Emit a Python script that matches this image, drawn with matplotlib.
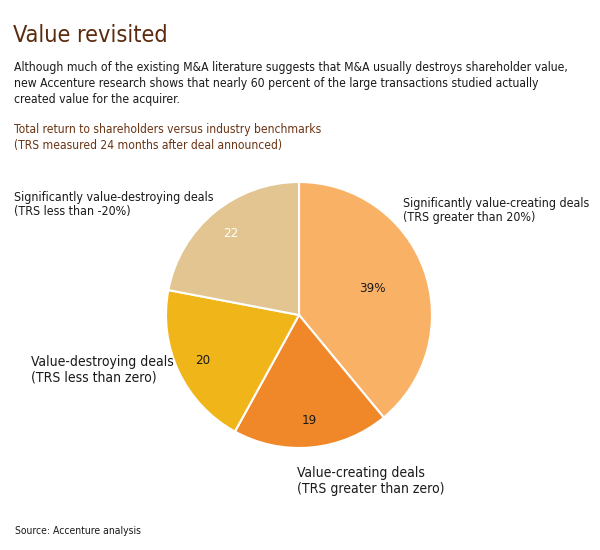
import numpy as np
import matplotlib.pyplot as plt

# Datos del gráfico (en sentido horario desde arriba)
valores = [39, 19, 20, 22]
etiquetas_num = ['39%', '19', '20', '22']
colores = ['#F9B166', '#F08829', '#F0B518', '#E2C590']
color_num = ['#1a1a1a', '#1a1a1a', '#1a1a1a', '#ffffff']
dist_num = [0.59, 0.8, 0.8, 0.8]
categorias = ['Significantly value-creating deals\n(TRS greater than 20%)',
              'Value-creating deals\n(TRS greater than zero)',
              'Value-destroying deals\n(TRS less than zero)',
              'Significantly value-destroying deals\n(TRS less than -20%)']

plt.rcParams['font.family'] = ['DejaVu Sans']
plt.rcParams['font.stretch'] = 'condensed'

W, H = 600, 550
fig = plt.figure(figsize=(6, 5.5), dpi=100)
fig.patch.set_facecolor('white')


def px(x, y):
    return x / W, 1 - y / H


marron = '#5B2B0F'

# Título y textos
fig.text(*px(13, 42), 'Value revisited', fontsize=16.8, color=marron, va='baseline')
fig.text(*px(14, 61), 'Although much of the existing M&A literature suggests that M&A usually destroys shareholder value,\n'
         'new Accenture research shows that nearly 60 percent of the large transactions studied actually\n'
         'created value for the acquirer.', fontsize=8.75, color='#1a1a1a', va='top', linespacing=1.32)
fig.text(*px(14, 123), 'Total return to shareholders versus industry benchmarks\n'
         '(TRS measured 24 months after deal announced)', fontsize=8.65, color='#6B3414', va='top',
         linespacing=1.3)

# Pastel
cx, cy, r = 299, 315, 133
ax = fig.add_axes([(cx - r) / W, 1 - (cy + r) / H, 2 * r / W, 2 * r / H])
cuñas, _ = ax.pie(valores, colors=colores, startangle=90, counterclock=False,
                  wedgeprops=dict(edgecolor='white', linewidth=1.5))
for w, t, c, d in zip(cuñas, etiquetas_num, color_num, dist_num):
    ang = np.deg2rad((w.theta1 + w.theta2) / 2)
    ax.text(d * np.cos(ang), d * np.sin(ang), t, ha='center', va='center',
            fontsize=9.5, color=c)
ax.set_xlim(-1, 1)
ax.set_ylim(-1, 1)
ax.set_aspect('equal')
ax.axis('off')

# Etiquetas de categorías
lab_kw = dict(color='#1a1a1a', va='top', linespacing=1.15)
fig.text(*px(403, 197), categorias[0], fontsize=8.9, **lab_kw)
fig.text(*px(297, 466), categorias[1], fontsize=10, **lab_kw)
fig.text(*px(31, 355), categorias[2], fontsize=10, **lab_kw)
fig.text(*px(14, 191), categorias[3], fontsize=8.9, **lab_kw)

fig.text(*px(15, 531), 'Source: Accenture analysis', fontsize=7.5, color='#1a1a1a', va='center')

fig.savefig('out.png', dpi=100, facecolor='white')
